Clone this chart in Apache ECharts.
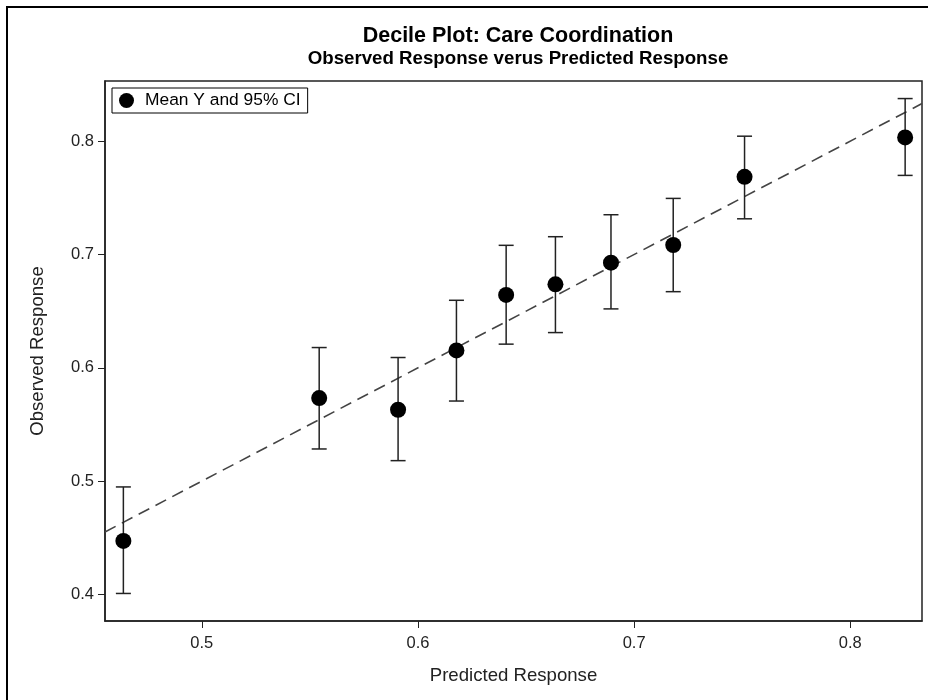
<!DOCTYPE html>
<html>
<head>
<meta charset="utf-8">
<script src="https://cdn.jsdelivr.net/npm/echarts@6/dist/echarts.min.js"></script>
<style>
  html, body { margin: 0; padding: 0; background: #fff; }
  #chart { width: 928px; height: 700px; }
</style>
</head>
<body>
<div id="chart"></div>
<script>
// ---- Data ----
const predicted = [0.4637, 0.5543, 0.5908, 0.6178, 0.6408, 0.6636, 0.6893, 0.7181, 0.7511, 0.8254];
const observed  = [0.4473, 0.5733, 0.5630, 0.6154, 0.6643, 0.6737, 0.6928, 0.7084, 0.7685, 0.8033];
const lowerCI   = [0.4009, 0.5284, 0.5181, 0.5707, 0.6209, 0.6311, 0.6520, 0.6672, 0.7315, 0.7698];
const upperCI   = [0.4949, 0.6179, 0.6091, 0.6596, 0.7081, 0.7157, 0.7351, 0.7495, 0.8044, 0.8376];
const refLineEnds = [0.4552, 0.8332];   // y = x diagonal, drawn across the plot
const xRange = [0.4552, 0.8332];
const yRange = [0.3766, 0.8531];
const xTicks = [0.5, 0.6, 0.7, 0.8];
const yTicks = [0.4, 0.5, 0.6, 0.7, 0.8];
const titleText = 'Decile Plot: Care Coordination';
const subtitleText = 'Observed Response verus Predicted Response';
const xName = 'Predicted Response';
const yName = 'Observed Response';
const legendName = 'Mean Y and 95% CI';

const FONT = '"Liberation Sans", Arial, sans-serif';
const chart = echarts.init(document.getElementById('chart'), null, { renderer: 'canvas' });

const pointData = predicted.map((x, i) => [x, observed[i]]);
const ciData = predicted.map((x, i) => [x, lowerCI[i], upperCI[i]]);
const refData = refLineEnds.map(v => [v, v]);

const option = {
  animation: false,
  backgroundColor: '#fff',
  textStyle: { fontFamily: FONT },
  title: {
    text: titleText,
    subtext: subtitleText,
    left: 513,
    textAlign: 'center',
    top: 20,
    itemGap: 2,
    textStyle: { fontFamily: FONT, fontSize: 21.5, fontWeight: 'bold', color: '#000' },
    subtextStyle: { fontFamily: FONT, fontSize: 18.7, fontWeight: 'bold', color: '#000' }
  },
  legend: {
    left: 112,
    top: 88,
    orient: 'horizontal',
    data: [{ name: legendName, icon: 'circle' }],
    itemWidth: 15,
    itemHeight: 15,
    itemGap: 6,
    padding: [4, 7, 4, 7],
    borderColor: '#000',
    borderWidth: 1,
    textStyle: { fontFamily: FONT, fontSize: 17.4, color: '#000', padding: [0, 0, 0, 6] }
  },
  graphic: [{
    type: 'rect',
    shape: { x: 7, y: 7, width: 960, height: 760 },
    style: { fill: 'none', stroke: '#000', lineWidth: 2 },
    silent: true,
    z: 100
  }],
  grid: {
    left: 105, right: 6, top: 81, bottom: 79,
    show: true, borderColor: '#222', borderWidth: 1.5, backgroundColor: '#fff'
  },
  xAxis: {
    type: 'value',
    min: xRange[0], max: xRange[1],
    name: xName,
    nameLocation: 'middle',
    nameGap: 45,
    nameTextStyle: { fontFamily: FONT, fontSize: 18.6, color: '#222' },
    axisLine: { show: true, onZero: false, lineStyle: { color: '#222', width: 1.5 } },
    axisTick: { show: true, length: 7, customValues: xTicks, lineStyle: { color: '#222', width: 1 } },
    axisLabel: { customValues: xTicks, margin: 14, fontFamily: FONT, fontSize: 16.5, color: '#222',
                 formatter: v => String(v) },
    splitLine: { show: false }
  },
  yAxis: {
    type: 'value',
    min: yRange[0], max: yRange[1],
    name: yName,
    nameLocation: 'middle',
    nameGap: 58,
    nameTextStyle: { fontFamily: FONT, fontSize: 18.6, color: '#222' },
    axisLine: { show: true, onZero: false, lineStyle: { color: '#222', width: 1.5 } },
    axisTick: { show: true, length: 7, customValues: yTicks, lineStyle: { color: '#222', width: 1 } },
    axisLabel: { customValues: yTicks, margin: 11, fontFamily: FONT, fontSize: 16.5, color: '#222',
                 formatter: v => String(v) },
    splitLine: { show: false }
  },
  series: [
    {
      name: 'ref',
      type: 'line',
      data: refData,
      symbol: 'none',
      silent: true,
      lineStyle: { color: '#444', width: 1.6, type: [12, 7] },
      z: 1
    },
    {
      name: 'ci',
      type: 'custom',
      data: ciData,
      silent: true,
      z: 2,
      renderItem: function (params, api) {
        const x = api.value(0);
        const lo = api.coord([x, api.value(1)]);
        const hi = api.coord([x, api.value(2)]);
        const half = 7.5;
        const style = { stroke: '#222', lineWidth: 1.5, fill: 'none' };
        return {
          type: 'group',
          children: [
            { type: 'line', shape: { x1: lo[0], y1: lo[1], x2: hi[0], y2: hi[1] }, style: style },
            { type: 'line', shape: { x1: hi[0] - half, y1: hi[1], x2: hi[0] + half, y2: hi[1] }, style: style },
            { type: 'line', shape: { x1: lo[0] - half, y1: lo[1], x2: lo[0] + half, y2: lo[1] }, style: style }
          ]
        };
      }
    },
    {
      name: legendName,
      type: 'scatter',
      data: pointData,
      symbol: 'circle',
      symbolSize: 16,
      itemStyle: { color: '#000', opacity: 1 },
      z: 3
    }
  ]
};
chart.setOption(option);
</script>
</body>
</html>
